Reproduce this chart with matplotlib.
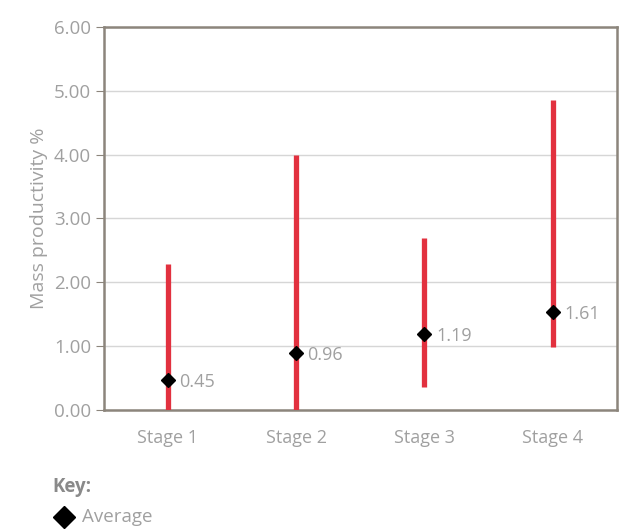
import matplotlib.pyplot as plt
from matplotlib.lines import Line2D

stages = ['Stage 1', 'Stage 2', 'Stage 3', 'Stage 4']
low = [0.0, 0.0, 0.36, 0.98]
high = [2.28, 4.0, 2.69, 4.85]
avg = [0.45, 0.96, 1.19, 1.61]
avg_pos = [0.47, 0.89, 1.19, 1.53]  # where the diamonds sit in the picture

plt.rcParams['font.family'] = ['Open Sans', 'DejaVu Sans']
grey = '#a0a0a0'
frame = '#8c857c'

fig = plt.figure(figsize=(6.2, 5.29), dpi=100)
ax = fig.add_axes([0.167, 0.225, 0.828, 0.724])

x = range(len(stages))
ax.vlines(x, low, high, color='#e2313f', linewidth=3.8, zorder=3)
ax.plot(x, avg_pos, linestyle='none', marker='D', markersize=7.5, color='black', zorder=4)
for i, (v, p) in enumerate(zip(avg, avg_pos)):
    ax.text(i + 0.09, p - 0.03, f'{v:.2f}', color=grey, fontsize=13, va='center', ha='left')

ax.set_xlim(-0.5, 3.5)
ax.set_ylim(0, 6)
ax.set_yticks([0, 1, 2, 3, 4, 5, 6])
ax.set_yticklabels([f'{t:.2f}' for t in range(7)])
ax.set_xticks(list(x))
ax.set_xticklabels(stages)
ax.tick_params(axis='y', colors=frame, labelcolor=grey, labelsize=13.5, length=6, width=0.8, pad=3)
ax.tick_params(axis='x', length=0, labelcolor=grey, labelsize=13, pad=14)
ax.grid(axis='y', color='#d6d6d6', linewidth=1)
ax.set_axisbelow(True)
for s in ax.spines.values():
    s.set_color(frame)
    s.set_linewidth(1.8)
ax.set_ylabel('Mass productivity %', color=grey, fontsize=14, labelpad=4)

fig.text(0.085, 0.079, 'Key:', color='#8a8a8a', fontsize=13.5, fontweight='bold', va='center')
fig.add_artist(Line2D([0.104], [0.022], marker='D', markersize=11, color='black', transform=fig.transFigure))
fig.text(0.133, 0.022, 'Average', color=grey, fontsize=13.5, va='center')

fig.savefig('out.png', dpi=100)
